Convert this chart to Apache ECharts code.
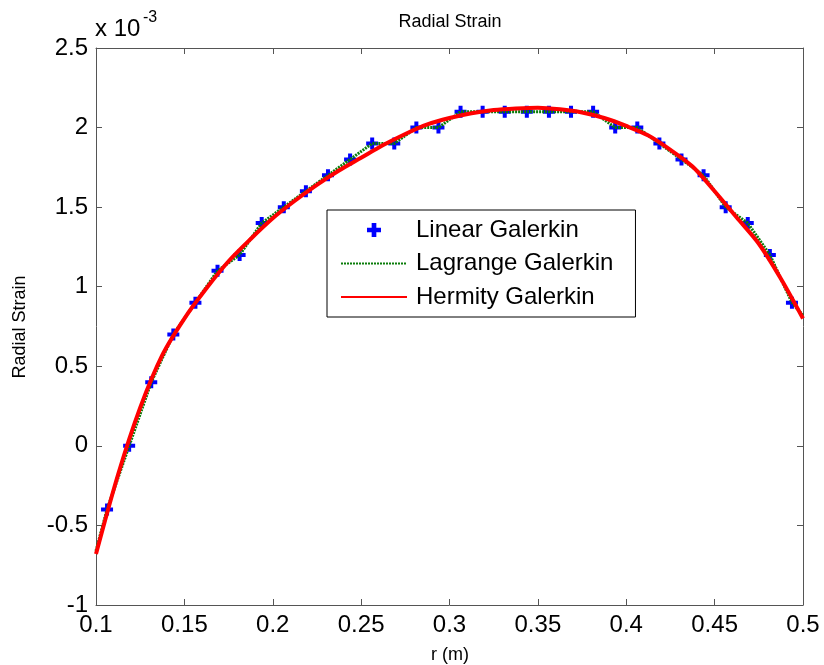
<!DOCTYPE html>
<html><head><meta charset="utf-8">
<script src="https://cdn.jsdelivr.net/npm/echarts@6/dist/echarts.min.js"></script>
<style>html,body{margin:0;padding:0;background:#fff}#c{width:824px;height:665px}</style>
</head><body><div id="c"></div>
<script>
// Values of strain are in units of 1e-3
const linearR = [0.10625,0.11875,0.13125,0.14375,0.15625,0.16875,0.18125,0.19375,0.20625,0.21875,0.23125,0.24375,0.25625,0.26875,0.28125,0.29375,0.30625,0.31875,0.33125,0.34375,0.35625,0.36875,0.38125,0.39375,0.40625,0.41875,0.43125,0.44375,0.45625,0.46875,0.48125,0.49375];
const linearV = [-0.4,0.0,0.4,0.7,0.9,1.1,1.2,1.4,1.5,1.6,1.7,1.8,1.9,1.9,2.0,2.0,2.1,2.1,2.1,2.1,2.1,2.1,2.1,2.0,2.0,1.9,1.8,1.7,1.5,1.4,1.2,0.9];

const lagrangeR = [0.1,0.10625,0.11875,0.13125,0.14375,0.15625,0.16875,0.18125,0.19375,0.20625,0.21875,0.23125,0.24375,0.25625,0.26875,0.28125,0.29375,0.30625,0.31875,0.33125,0.34375,0.35625,0.36875,0.38125,0.39375,0.40625,0.41875,0.43125,0.44375,0.45625,0.46875,0.48125,0.49375,0.5];
const lagrangeV = [-0.66,-0.4,0.0,0.4,0.7,0.9,1.1,1.2,1.4,1.5,1.6,1.7,1.8,1.9,1.9,2.0,2.0,2.1,2.1,2.1,2.1,2.1,2.1,2.1,2.0,2.0,1.9,1.8,1.7,1.5,1.4,1.2,0.9,0.82];

const hermiteR = [0.1,0.1125,0.125,0.1375,0.15,0.1625,0.175,0.1875,0.2,0.2125,0.225,0.2375,0.25,0.2625,0.275,0.2875,0.3,0.3125,0.325,0.3375,0.35,0.3625,0.375,0.3875,0.4,0.4125,0.425,0.4375,0.45,0.4625,0.475,0.4875,0.5];
const hermiteV = [-0.68,-0.18,0.24,0.57,0.80,0.99,1.16,1.30,1.43,1.54,1.64,1.73,1.81,1.89,1.96,2.02,2.06,2.09,2.11,2.12,2.125,2.115,2.095,2.06,2.01,1.95,1.86,1.755,1.60,1.435,1.27,1.05,0.80];

const xTickMin = 0.1, xTickMax = 0.5, xTickStep = 0.05;
const yTickMin = -1, yTickMax = 2.5, yTickStep = 0.5;

const FONT = 'Liberation Sans, Arial, sans-serif';
const AX = '#555555';

function pairs(a, b) { return a.map((v, i) => [v, b[i]]); }

const chart = echarts.init(document.getElementById('c'));
const axisCommon = {
  type: 'value',
  axisLine: { show: true, onZero: false, lineStyle: { color: AX, width: 1 } },
  axisTick: { show: true, inside: true, length: 6, lineStyle: { color: AX } },
  splitLine: { show: false }
};
chart.setOption({
  animation: false,
  backgroundColor: '#fff',
  grid: { left: 96, right: 21, top: 48, bottom: 60, containLabel: false },
  xAxis: [
    Object.assign({}, axisCommon, { position: 'bottom', min: xTickMin, max: xTickMax, interval: xTickStep,
      axisLabel: { fontSize: 24, color: '#000', fontFamily: FONT, margin: 8, showMinLabel: true, showMaxLabel: true } }),
    Object.assign({}, axisCommon, { position: 'top', min: xTickMin, max: xTickMax, interval: xTickStep,
      axisLabel: { show: false } })
  ],
  yAxis: [
    Object.assign({}, axisCommon, { position: 'left', min: yTickMin, max: yTickMax, interval: yTickStep,
      axisLabel: { fontSize: 24, color: '#000', fontFamily: FONT, margin: 8, showMinLabel: true, showMaxLabel: true } }),
    Object.assign({}, axisCommon, { position: 'right', min: yTickMin, max: yTickMax, interval: yTickStep,
      axisLabel: { show: false } })
  ],
  legend: {
    orient: 'vertical', left: 327, top: 210,
    data: [
      { name: 'Linear Galerkin' },
      { name: 'Lagrange Galerkin', itemStyle: { opacity: 0 } },
      { name: 'Hermity Galerkin', itemStyle: { opacity: 0 } }
    ],
    borderColor: '#000', borderWidth: 1, backgroundColor: '#fff',
    padding: [8, 22, 8, 13], itemWidth: 66, itemHeight: 14, itemGap: 9.5,
    textStyle: { fontSize: 24, color: '#000', fontFamily: FONT, padding: [0, 0, 0, 4] }
  },
  graphic: [
    { type: 'text', style: { text: 'Radial Strain', x: 450, y: 22, fontSize: 18, fontFamily: FONT, fill: '#000', align: 'center', verticalAlign: 'middle' } },
    { type: 'text', style: { text: 'x 10', x: 95, y: 29, fontSize: 24, fontFamily: FONT, fill: '#000', align: 'left', verticalAlign: 'middle' } },
    { type: 'text', style: { text: '-3', x: 143, y: 18, fontSize: 16, fontFamily: FONT, fill: '#000', align: 'left', verticalAlign: 'middle' } },
    { type: 'text', style: { text: 'r (m)', x: 450, y: 655, fontSize: 18, fontFamily: FONT, fill: '#000', align: 'center', verticalAlign: 'middle' } },
    { type: 'text', rotation: Math.PI / 2, x: 20, y: 327, style: { text: 'Radial Strain', x: 0, y: 0, fontSize: 18, fontFamily: FONT, fill: '#000', align: 'center', verticalAlign: 'middle' } }
  ],
  series: [
    { name: 'Linear Galerkin', type: 'scatter', xAxisIndex: 0, yAxisIndex: 0,
      symbol: 'path://M4,0H8V4H12V8H8V12H4V8H0V4H4Z', symbolSize: 12, symbolKeepAspect: true,
      itemStyle: { color: '#0000ff', opacity: 1 }, data: pairs(linearR, linearV), z: 2 },
    { name: 'Lagrange Galerkin', type: 'line', xAxisIndex: 0, yAxisIndex: 0, symbol: 'none', showSymbol: false,
      lineStyle: { color: '#0a7d0a', width: 3, type: [2, 1] }, itemStyle: { color: '#0a7d0a' },
      data: pairs(lagrangeR, lagrangeV), z: 3 },
    { name: 'Hermity Galerkin', type: 'line', xAxisIndex: 0, yAxisIndex: 0, symbol: 'none', showSymbol: false, smooth: 0.3,
      lineStyle: { color: '#ff0000', width: 4 }, itemStyle: { color: '#ff0000' },
      data: pairs(hermiteR, hermiteV), z: 4 }
  ]
});
</script></body></html>
